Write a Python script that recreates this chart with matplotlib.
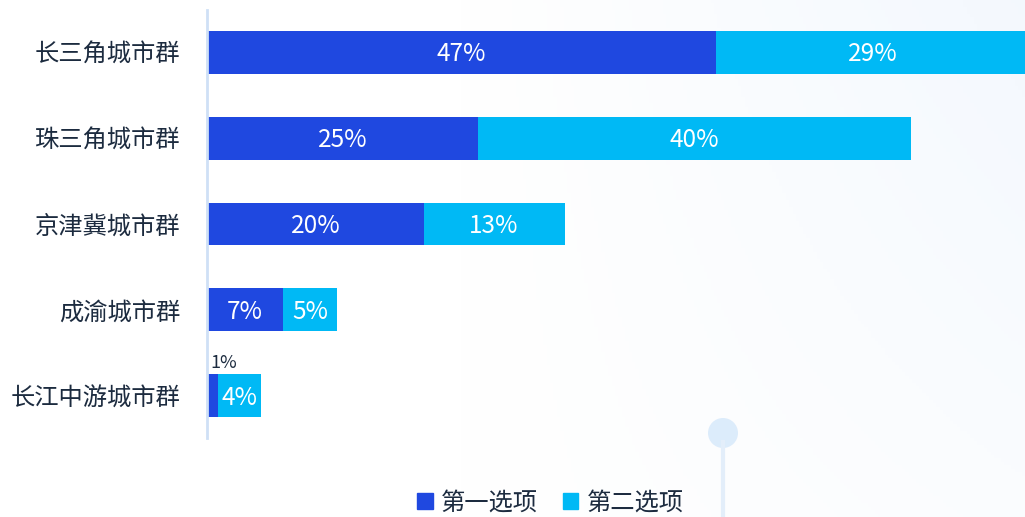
import numpy as np
import matplotlib.pyplot as plt
from matplotlib.patches import Patch, Ellipse

plt.rcParams['font.family'] = ['Noto Sans CJK SC', 'DejaVu Sans']

# 数据
cities = ["长三角城市群", "珠三角城市群", "京津冀城市群", "成渝城市群", "长江中游城市群"]
first = [47, 25, 20, 7, 1]
second = [29, 40, 13, 5, 4]
names = ["第一选项", "第二选项"]

C1 = "#1f48e0"
C2 = "#00b9f5"
TXT = "#1c2b3f"

fig = plt.figure(figsize=(10.25, 5.17), dpi=100)

# 背景的浅色渐变
bg = fig.add_axes([0, 0, 1, 1], zorder=-10)
gx = np.linspace(0, 1, 300)
gy = np.linspace(0, 1, 150)
X, Y = np.meshgrid(gx, gy)
g = np.clip((X - 0.45) * 1.6, 0, 1) * (0.4 + 0.6 * Y)
img = np.ones((150, 300, 3))
img[..., 0] -= 0.05 * g
img[..., 1] -= 0.03 * g
img[..., 2] -= 0.005 * g
bg.imshow(img, extent=(0, 1025, 0, 517), aspect='auto', origin='lower')
bg.plot([723, 723], [0, 517 - 440], color="#e3eefa", lw=3, solid_capstyle='butt')
bg.add_patch(Ellipse((723, 517 - 433), 30, 30, color="#dcecfb", ec="none"))
bg.set_xlim(0, 1025)
bg.set_ylim(0, 517)
bg.axis('off')

ax = fig.add_axes([207 / 1025, 1 - 438 / 517, 1 - 207 / 1025, (438 - 10) / 517])
ax.patch.set_alpha(0)
y = np.arange(len(cities))
ax.barh(y, first, height=0.5, color=C1)
ax.barh(y, second, left=first, height=0.5, color=C2)

for i in range(len(cities)):
    if first[i] >= 5:
        ax.text(first[i] / 2, i + 0.02, f"{first[i]}%", ha='center', va='center',
                color='white', fontsize=17.5)
    else:
        ax.text(first[i] / 2 - 0.2, i - 0.28, f"{first[i]}%", ha='left', va='bottom',
                color=TXT, fontsize=13)
    ax.text(first[i] + second[i] / 2, i + 0.02, f"{second[i]}%", ha='center', va='center',
            color='white', fontsize=17.5)

ax.set_xlim(0, 75.5)
ax.set_ylim(len(cities) - 0.51, -0.49)
ax.set_yticks(y)
ax.set_yticklabels(cities, fontsize=17.5, color=TXT)
ax.set_xticks([])
ax.tick_params(axis='y', length=0, pad=19)
for s in ['top', 'right', 'bottom']:
    ax.spines[s].set_visible(False)
ax.spines['left'].set_color("#cfe0f6")
ax.spines['left'].set_linewidth(2)

handles = [Patch(color=C1, label=names[0]), Patch(color=C2, label=names[1])]
fig.legend(handles=handles, loc='lower center', bbox_to_anchor=(0.537, -0.04), ncol=2,
           frameon=False, fontsize=17.5, handlelength=0.65, handleheight=0.65,
           handletextpad=0.35, columnspacing=1.0, labelcolor=TXT)

fig.savefig("out.png", dpi=100)
